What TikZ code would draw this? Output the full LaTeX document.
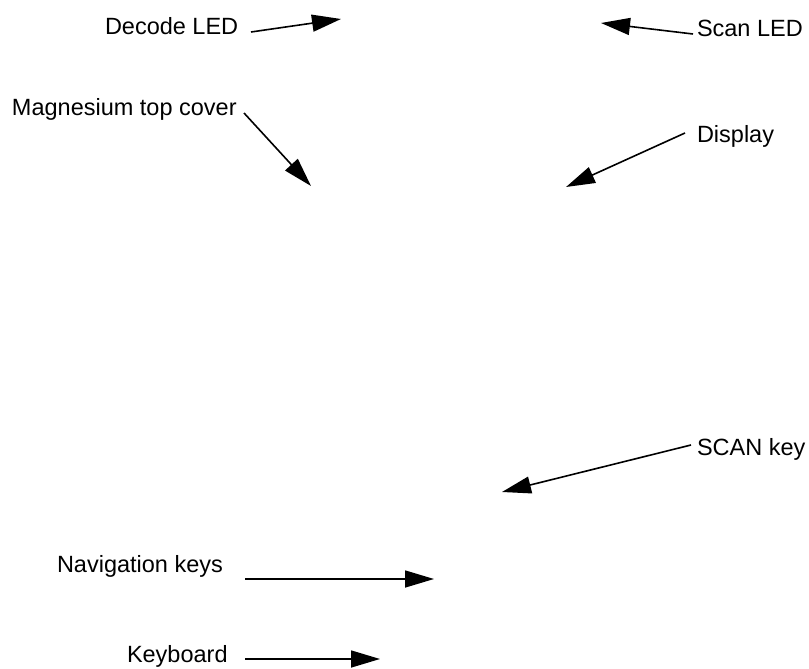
\documentclass[tikz,border=0pt]{standalone}
\usepackage{fontspec}
\setmainfont{Liberation Sans}
\usetikzlibrary{arrows.meta}
\begin{document}
\begin{tikzpicture}[x=1pt,y=-1pt,
  lbl/.style={inner sep=0pt,outer sep=0pt,font=\fontsize{23.5}{28}\selectfont},
  ptr/.style={line width=1.6pt,-{Triangle[length=29pt,width=17pt]}}]
\useasboundingbox (0,0) rectangle (809,669);
\node[lbl,anchor=base west] (dec) at (105,35) {Decode LED};
\node[lbl,anchor=base west] (scan) at (697,37) {Scan LED};
\node[lbl,anchor=base west] (mag) at (12,115) {Magnesium top cover};
\node[lbl,anchor=base west] (disp) at (697,142) {Display};
\node[lbl,anchor=base west] (skey) at (697,455) {SCAN key};
\node[lbl,anchor=base west] (nav) at (57,572) {Navigation keys};
\node[lbl,anchor=base west] (kbd) at (127,662) {Keyboard};
\coordinate (decS) at (251,32);  \coordinate (decT) at (341,19);
\coordinate (scanS) at (693,34); \coordinate (scanT) at (601,23);
\coordinate (magS) at (244,113); \coordinate (magT) at (311,186);
\coordinate (dispS) at (685,133); \coordinate (dispT) at (566,187);
\coordinate (skeyS) at (691,445); \coordinate (skeyT) at (502,492);
\coordinate (navS) at (245,579); \coordinate (navT) at (434,579);
\coordinate (kbdS) at (245,659); \coordinate (kbdT) at (380,659);
\draw[ptr] (decS) -- (decT);
\draw[ptr] (scanS) -- (scanT);
\draw[ptr] (magS) -- (magT);
\draw[ptr] (dispS) -- (dispT);
\draw[ptr] (skeyS) -- (skeyT);
\draw[ptr] (navS) -- (navT);
\draw[ptr] (kbdS) -- (kbdT);
\end{tikzpicture}
\end{document}
